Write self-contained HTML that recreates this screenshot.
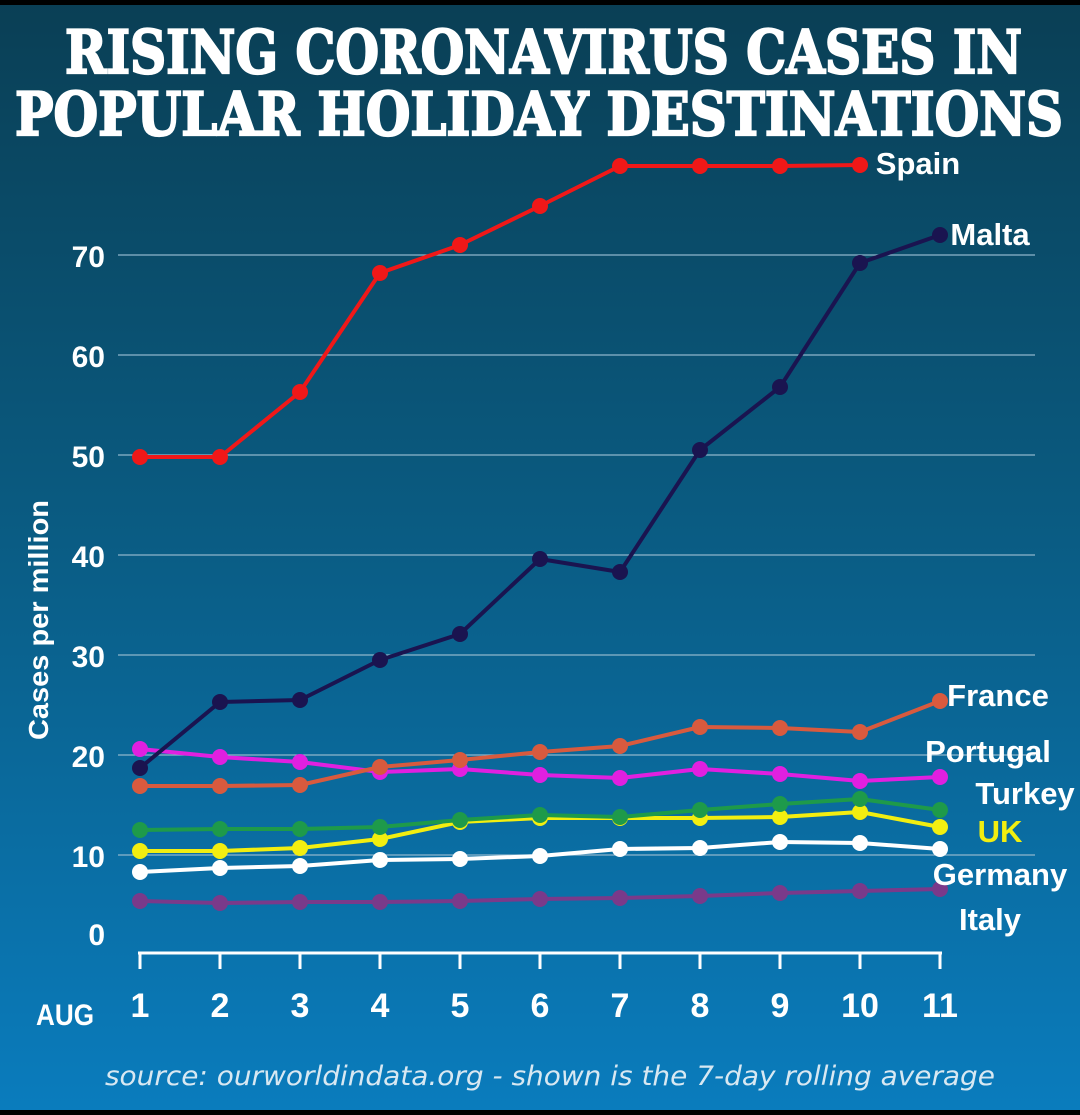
<!DOCTYPE html>
<html><head><meta charset="utf-8"><style>
html,body{margin:0;padding:0;background:#000}
svg{display:block}
</style></head><body>
<svg width="1080" height="1115" viewBox="0 0 1080 1115" xmlns="http://www.w3.org/2000/svg">
<defs><linearGradient id="bg" x1="0" y1="0" x2="0" y2="1">
<stop offset="0" stop-color="#0a3f55"/><stop offset="0.45" stop-color="#0a5a80"/><stop offset="1" stop-color="#0a7cbd"/></linearGradient></defs>
<rect x="0" y="5" width="1080" height="1105" fill="url(#bg)"/>
<g font-family="'DejaVu Serif','Liberation Serif',serif" font-weight="bold" fill="#fff" stroke="#fff" stroke-width="2.2">
<text x="65" y="73" font-size="60" textLength="957" lengthAdjust="spacingAndGlyphs">RISING CORONAVIRUS CASES IN</text>
<text x="15" y="135" font-size="60" textLength="1048" lengthAdjust="spacingAndGlyphs">POPULAR HOLIDAY DESTINATIONS</text>
</g>
<g id="grid"></g>
<g id="axes"></g>
<g id="series"></g>
<g id="labels"></g>
<text x="48" y="620" transform="rotate(-90 48 620)" text-anchor="middle" font-family="'Liberation Sans',sans-serif" font-weight="bold" font-size="28" fill="#fff" textLength="240" lengthAdjust="spacingAndGlyphs">Cases per million</text>
<text x="550" y="1085" text-anchor="middle" font-family="'DejaVu Sans','Liberation Sans',sans-serif" font-style="italic" font-size="27" fill="#d8e8f2" textLength="890" lengthAdjust="spacingAndGlyphs">source: ourworldindata.org - shown is the 7-day rolling average</text>
</svg>
<script>
const days=[1,2,3,4,5,6,7,8,9,10,11];
const yTicks=[0,10,20,30,40,50,60,70];
const spain=[49.8,49.8,56.3,68.2,71,74.9,78.9,78.9,78.9,79,null];
const malta=[18.7,25.3,25.5,29.5,32.1,39.6,38.3,50.5,56.8,69.2,72];
const france=[16.9,16.9,17,18.8,19.5,20.3,20.9,22.8,22.7,22.3,25.4];
const portugal=[20.6,19.8,19.3,18.3,18.6,18,17.7,18.6,18.1,17.4,17.8];
const turkey=[12.5,12.6,12.6,12.8,13.5,14,13.8,14.5,15.1,15.6,14.5];
const uk=[10.4,10.4,10.7,11.6,13.3,13.7,13.7,13.7,13.8,14.3,12.8];
const germany=[8.3,8.7,8.9,9.5,9.6,9.9,10.6,10.7,11.3,11.2,10.6];
const italy=[5.4,5.2,5.3,5.3,5.4,5.6,5.7,5.9,6.2,6.4,6.6];
const NS="http://www.w3.org/2000/svg";
const X=d=>140+(d-1)*80, Y=v=>955-v*10;
function mk(t,a,p){const e=document.createElementNS(NS,t);for(const k in a)e.setAttribute(k,a[k]);p.appendChild(e);return e;}
const grid=document.getElementById('grid'),axes=document.getElementById('axes');
yTicks.forEach(v=>{
 if(v>0){const l=mk('line',{x1:118,x2:1035,y1:Y(v),y2:Y(v),stroke:'#8fb6cc','stroke-width':1.2},grid);
 
 }
 const t=mk('text',{x:105,y:(v==0?Y(v)-10:Y(v)+12),'text-anchor':'end','font-family':"'Liberation Sans',sans-serif",'font-weight':'bold','font-size':30,fill:'#fff'},axes);
 t.textContent=v;
 
 
});
const ax=mk('line',{x1:138,x2:942,y1:953,y2:953,stroke:'#fff','stroke-width':3},axes);


days.forEach(d=>{
 const tk=mk('line',{x1:X(d),x2:X(d),y1:952,y2:969,stroke:'#fff','stroke-width':3},axes);
 
 
 const t=mk('text',{x:X(d),y:1017,'text-anchor':'middle','font-family':"'Liberation Sans',sans-serif",'font-weight':'bold','font-size':34,fill:'#fff'},axes);
 t.textContent=d;
 
 
});
const aug=mk('text',{x:36,y:1025,'font-family':"'Liberation Sans',sans-serif",'font-weight':'bold','font-size':30,fill:'#fff',textLength:58,lengthAdjust:'spacingAndGlyphs'},axes);
aug.textContent='AUG';


const S=[
 ['italy',italy,'#7a3a8a','Italy',990,930],
 ['germany',germany,'#ffffff','Germany',1000,885],
 ['uk',uk,'#f2ee10','UK',1000,842],
 ['turkey',turkey,'#1e9a4a','Turkey',1025,804],
 ['portugal',portugal,'#e020e0','Portugal',988,762],
 ['france',france,'#d85a3e','France',998,706],
 ['malta',malta,'#1a1450','Malta',990,245],
 ['spain',spain,'#f01818','Spain',918,174]];
const sg=document.getElementById('series'),lg=document.getElementById('labels');
S.forEach(([n,vals,c,lab,lx,ly])=>{
 const g=mk('g',{},sg);
 
 
 let d='';vals.forEach((v,i)=>{if(v==null)return;d+=(d?'L':'M')+X(days[i])+','+Y(v);});
 const p=mk('path',{d:d,fill:'none',stroke:c,'stroke-width':4,'stroke-linejoin':'round'},g);
 
 
 vals.forEach((v,i)=>{if(v==null)return;
  const ci=mk('circle',{cx:X(days[i]),cy:Y(v),r:8,fill:c},g);
  
  });
 const t=mk('text',{x:lx,y:ly,'text-anchor':'middle','font-family':"'Liberation Sans',sans-serif",'font-weight':'bold','font-size':31,fill:(n=='uk'?'#f2ee10':'#fff')},lg);
 t.textContent=lab;
 
 
});
</script>
</body></html>
